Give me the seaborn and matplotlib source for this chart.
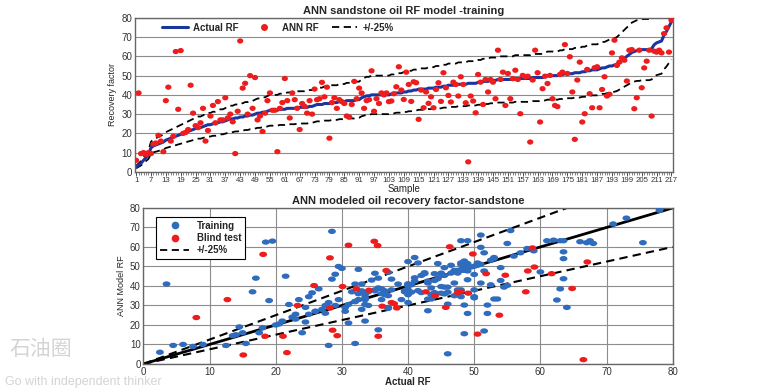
import numpy as np
import pandas as pd
import matplotlib
matplotlib.use("Agg")
import matplotlib.pyplot as plt
from matplotlib.lines import Line2D
import seaborn as sns

# ---------------- data ----------------
actual_rf = [
    2.5, 3.5, 4.5, 6, 7.5, 9, 12.5, 13.5, 14, 14.5, 15, 15.5, 16.5, 17, 17.5, 18, 18.5, 19, 19.5, 20,
    20.5, 21, 21.5, 22, 22.5, 23, 23, 23.5, 24, 24.5, 24.5, 25, 25, 25.5, 26, 26, 26.5, 27, 27.5, 27.5,
    28, 28, 28.5, 28.5, 29, 29, 29.5, 29.5, 30, 30.5, 30.5, 31, 31, 31.5, 32, 32, 32, 32, 32.5, 32.5,
    32.5, 33, 33, 33, 33, 33.5, 33.5, 33.5, 33.5, 33.5, 34, 34, 34.5, 35, 35, 35, 35.5, 35.5, 35.5, 36,
    36, 36, 36.5, 36.5, 36.5, 37, 37, 37, 37, 37.5, 37.5, 38.5, 39, 39.5, 39.5, 40, 40, 40, 40, 40,
    40, 40, 40, 40.5, 40.5, 41, 41, 41, 41.5, 41.5, 42, 42, 42.5, 42.5, 43, 43, 43, 43, 43.5, 43.5,
    43.5, 44, 44, 44, 44.5, 44.5, 45, 45, 45, 45, 45.5, 45.5, 45.5, 45.5, 46, 46, 46, 46, 46.5, 46.5,
    47, 47, 47, 47.5, 47.5, 47.5, 48, 48, 48, 48, 48, 48, 48, 48.5, 48.5, 48.5, 48.5, 48.5, 48.5, 48.5,
    49, 49, 49, 49, 49, 49.5, 50, 50, 50, 50, 50, 50.5, 50.5, 51, 51, 51, 51, 51.5, 51.5, 51.5,
    52, 52, 52.5, 52.5, 53, 53, 53, 53.5, 54, 54, 54.5, 55, 55, 55.5, 56, 57, 58, 59, 60, 61,
    62, 62.5, 63, 63, 63.5, 63.5, 63.5, 63.5, 64, 66, 67, 67.5, 68, 71, 73, 75.5, 78,
]

ann_rf = [
    6, 41, 9.5, 10, 9, 10, 9.5, 14.5, 15, 19, 16, 10.5, 37, 44, 16, 18.5, 62.5, 32.5, 63, 20,
    20.5, 22, 45, 30.5, 24, 23, 25.5, 33, 16, 21.5, 29, 34.5, 25.5, 36.5, 27, 27, 38.5, 28, 30, 26,
    9.5, 31.5, 68, 43.5, 46, 30, 50, 33, 49, 27, 29, 21, 30.5, 37, 41, 32, 32, 10.5, 33, 36,
    48.5, 37, 28, 41, 37.5, 33, 22, 35.5, 34, 30.5, 37, 30, 43, 37.5, 38, 46.5, 39, 44, 17.5, 36,
    38.5, 33, 37.5, 36.5, 35.5, 29, 28.5, 35, 47, 38, 43.5, 41, 33, 37, 37.5, 52.5, 31.5, 38, 35.5, 41,
    40, 41, 36.5,
    36.8, 40.6, 44.2, 54.6, 42.5, 37.6, 51.8, 45.4, 36.6, 46.8, 46.3, 27.3, 42.5, 33.3, 41.5, 35.6, 39, 33.3, 42.8, 46.3,
    36.6, 51.5, 43.7, 39.7, 36.3, 46.6, 45.4, 39.4, 49.4, 45.4, 35.9, 5.2, 39.4, 36.8, 30.7, 50.6, 46.6, 35, 48, 41.5,
    48, 46.6, 38, 63.2, 48, 51.8, 34.5, 51.1, 38, 48.4, 52.8, 48, 30.2, 50.1, 49.4, 49.7, 15.5, 47.7, 63.2, 51.5,
    25.9, 43.2, 49.7, 45.9, 50.1, 38, 34.5, 33.9, 50.6, 51.8, 66.1, 51.1, 59.8, 41.5, 16.9, 47.7, 57, 25.9, 30.2, 53.2,
    40.6, 33.3, 54.1, 54.6, 33.3, 42.8, 49.4, 39.4, 40.3, 61.8, 68.4, 55.3, 57, 59.2, 58, 47.2, 63.2, 63.5, 32.8, 38.5,
    63.2, 43.7, 54, 57.5, 63.2, 29, 62.7, 62.2, 63.2, 61.8, 71.8, 74.8, 62.2, 78.8,
]

blind_actual = [8.0, 12.7, 15.1, 18.1, 18.4, 21.1, 21.7, 23.3, 25.8, 28.2, 28.2, 28.6, 29.3, 30.1, 31.0,
                32.2, 34.1, 34.9, 35.4, 35.5, 36.1, 36.7, 37.5, 37.9, 38.3, 42.7, 44.1, 45.7, 46.3, 47.5,
                48.0, 49.1, 49.8, 50.5, 51.8, 53.8, 54.7, 57.8, 58.1, 58.8, 59.1, 61.7, 64.8, 66.5, 67.1]
blind_model = [23.8, 33.0, 4.6, 56.2, 14.2, 14.2, 5.8, 30.0, 40.2, 54.4, 28.7, 17.3, 14.5, 39.7, 60.9,
               38.5, 37.8, 62.9, 60.7, 14.2, 29.6, 47.9, 31.5, 30.9, 28.7, 37.0, 35.0, 29.0, 60.1, 36.6,
               37.1, 36.3, 56.4, 15.3, 46.3, 25.0, 45.5, 37.0, 47.7, 59.5, 49.7, 46.3, 38.7, 2.2, 52.3]

sample_ticks = list(range(1, 218, 6))
rf_ticks = [0, 10, 20, 30, 40, 50, 60, 70, 80]

n = min(len(actual_rf), len(ann_rf))
samples = np.arange(1, n + 1)
df = pd.DataFrame({"Sample": samples, "Actual": actual_rf[:n], "ANN": ann_rf[:n]})
df["Up"] = df["Actual"] * 1.25
df["Low"] = df["Actual"] * 0.75
blind = pd.DataFrame({"Actual": blind_actual, "Model": blind_model})
line = pd.DataFrame({"x": [0, 80], "y": [0, 80]})
line["up"] = line["y"] * 1.25
line["low"] = line["y"] * 0.75

# ---------------- style ----------------
sns.set_theme(style="white")
plt.rcParams["font.family"] = ["Liberation Sans", "DejaVu Sans"]

BLUE_LINE = "#1a35a0"
RED = "#ee1c1c"
BLUE_DOT = "#2f6cbd"
GRID = "#8c8c8c"
DASH = (0, (4, 2.5))

# ellipse marker (dots in reference are slightly wider than tall)
t = np.linspace(0, 2 * np.pi, 40)
ell = np.column_stack([1.0 * np.cos(t), 0.68 * np.sin(t)])
ell_small = np.column_stack([1.0 * np.cos(t), 0.85 * np.sin(t)])

fig = plt.figure(figsize=(7.75, 3.88), dpi=100)
ax1 = fig.add_axes([0.174, 0.557, 0.694, 0.397])
ax2 = fig.add_axes([0.185, 0.062, 0.683, 0.402])

# ---------------- top chart ----------------
sns.lineplot(data=df, x="Sample", y="Up", ax=ax1, color="black", lw=1.3, linestyle=DASH)
sns.lineplot(data=df, x="Sample", y="Low", ax=ax1, color="black", lw=1.3, linestyle=DASH)
sns.lineplot(data=df, x="Sample", y="Actual", ax=ax1, color=BLUE_LINE, lw=2.2)
sns.scatterplot(data=df, x="Sample", y="ANN", ax=ax1, color=RED, s=20, marker=ell_small,
                edgecolor="none", zorder=5)
ax1.set_xlim(0.5, 217.5)
ax1.set_ylim(0, 80)
ax1.set_yticks(rf_ticks)
ax1.set_xticks(sample_ticks)
ax1.set_xticks(samples, minor=True)
ax1.tick_params(axis="x", which="minor", length=2.5, width=0.5, color="#555555", bottom=True)
ax1.tick_params(axis="x", which="major", length=3, width=0.6, labelsize=5.6, pad=1, bottom=True,
                colors="#333333")
ax1.tick_params(axis="y", length=0, labelsize=7, pad=2, colors="#333333")
ax1.yaxis.grid(True, color=GRID, lw=0.8)
ax1.set_axisbelow(True)
for sp in ax1.spines.values():
    sp.set_color("#666666")
    sp.set_linewidth(1.0)
ax1.set_xlabel("Sample", fontsize=7, labelpad=0)
ax1.set_ylabel("Recovery factor", fontsize=6.5, labelpad=3)
ax1.set_title("ANN sandstone oil RF model -training", fontsize=8, fontweight="bold", pad=3)
h1 = [Line2D([], [], color=BLUE_LINE, lw=2.2),
      Line2D([], [], color=RED, marker="o", linestyle="none", markersize=4),
      Line2D([], [], color="black", lw=1.3, linestyle=DASH)]
ax1.legend(h1, ["Actual RF", "ANN RF", "+/-25%"], loc="upper left", ncol=3, frameon=False,
           bbox_to_anchor=(0.035, 1.025), handlelength=2.6, columnspacing=1.4,
           handletextpad=0.5, prop={"weight": "bold", "size": 7})

# ---------------- bottom chart ----------------
sns.lineplot(data=line, x="x", y="up", ax=ax2, color="black", lw=1.5, linestyle=DASH)
sns.lineplot(data=line, x="x", y="low", ax=ax2, color="black", lw=1.5, linestyle=DASH)
sns.lineplot(data=line, x="x", y="y", ax=ax2, color="black", lw=2.0)
sns.scatterplot(data=df, x="Actual", y="ANN", ax=ax2, color=BLUE_DOT, s=32, marker=ell,
                edgecolor="none", zorder=5)
sns.scatterplot(data=blind, x="Actual", y="Model", ax=ax2, color=RED, s=32, marker=ell,
                edgecolor="none", zorder=6)
ax2.set_xlim(0, 80)
ax2.set_ylim(0, 80)
ax2.set_xticks(rf_ticks)
ax2.set_yticks(rf_ticks)
ax2.grid(True, color=GRID, lw=0.8)
ax2.set_axisbelow(True)
ax2.tick_params(length=0, labelsize=7, pad=2, colors="#333333")
for sp in ax2.spines.values():
    sp.set_color("#666666")
    sp.set_linewidth(1.0)
ax2.set_xlabel("Actual RF", fontsize=7, labelpad=0, fontweight="bold")
ax2.set_ylabel("ANN Model RF", fontsize=6.5, labelpad=3)
ax2.set_title("ANN modeled oil recovery factor-sandstone", fontsize=8, fontweight="bold", pad=3)
h2 = [Line2D([], [], color=BLUE_DOT, marker="o", linestyle="none", markersize=4.5),
      Line2D([], [], color=RED, marker="o", linestyle="none", markersize=4.5),
      Line2D([], [], color="black", lw=1.3, linestyle=DASH)]
leg = ax2.legend(h2, ["Training", "Blind test", "+/-25%"], loc="upper left", frameon=True,
                 bbox_to_anchor=(0.015, 0.975), handlelength=3.0, handletextpad=0.8,
                 borderpad=0.4, labelspacing=0.25, fancybox=False,
                 prop={"weight": "bold", "size": 7})
leg.get_frame().set_edgecolor("black")
leg.get_frame().set_linewidth(0.8)
leg.get_frame().set_alpha(1)

# watermark
fig.text(0.012, 0.085, "石油圈", fontsize=15, color="#d4d4d4",
         family=["Noto Sans CJK SC", "DejaVu Sans"])
fig.text(0.006, 0.008, "Go with independent thinker", fontsize=9, color="#d4d4d4")

fig.savefig("out.png", dpi=100)
